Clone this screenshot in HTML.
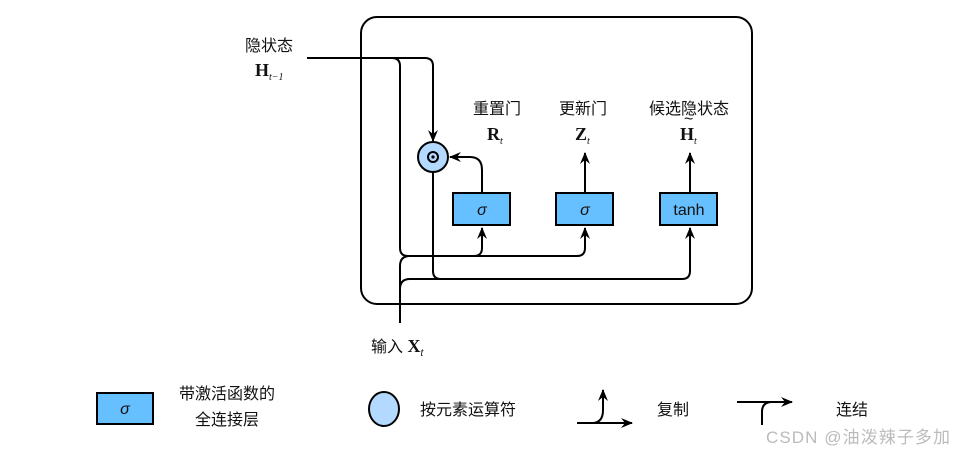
<!DOCTYPE html><html><head><style>body{margin:0;background:#fff}svg text{font-family:"Liberation Sans","Noto Sans CJK SC",sans-serif;font-size:16px;fill:#111}.s{font-family:"Liberation Serif",serif;font-weight:bold;font-size:18px}</style></head><body>
<svg width="954" height="454" xmlns="http://www.w3.org/2000/svg">
<defs><marker id="a" markerWidth="14" markerHeight="14" refX="11" refY="6" orient="auto" markerUnits="userSpaceOnUse"><path d="M0,1 L12,6 L0,11 L4,6z" fill="#000"/></marker></defs>
<rect x="361" y="17" width="391" height="287" rx="16" fill="none" stroke="#000" stroke-width="2"/>
<g fill="none" stroke="#000" stroke-width="2">
<path d="M307,58 H392 Q400,58 400,66 V248 Q400,256 408,256 H474 Q482,256 482,248 V228" marker-end="url(#a)"/>
<path d="M474,256 H577 Q585,256 585,248 V228" marker-end="url(#a)"/>
<path d="M390,58 H425 Q433,58 433,66 V141" marker-end="url(#a)"/>
<path d="M433,171 V271 Q433,279 441,279 H682 Q690,279 690,271 V228" marker-end="url(#a)"/>
<path d="M400,323 V266 Q400,256 410,256"/>
<path d="M400,300 V289 Q400,279 410,279 H441"/>
<path d="M482,193 V170 Q482,157 470,157 H450" marker-end="url(#a)"/>
<path d="M585,193 V153" marker-end="url(#a)"/>
<path d="M690,193 V153" marker-end="url(#a)"/>
</g>
<circle cx="433" cy="157" r="15" fill="#b3d9ff" stroke="#000" stroke-width="2"/>
<circle cx="433" cy="157" r="5" fill="none" stroke="#000" stroke-width="2"/><circle cx="433" cy="157" r="1.6" fill="#000"/>
<g fill="#66bfff" stroke="#000" stroke-width="2"><rect x="453" y="193" width="57" height="32"/><rect x="556" y="193" width="57" height="32"/><rect x="660" y="193" width="57" height="32"/><rect x="97" y="393" width="56" height="31"/></g>
<text x="482" y="215" text-anchor="middle" font-style="italic">σ</text>
<text x="585" y="215" text-anchor="middle" font-style="italic">σ</text>
<text x="689" y="215" text-anchor="middle">tanh</text>
<text x="125" y="414" text-anchor="middle" font-style="italic">σ</text>
<text x="497" y="114" text-anchor="middle">重置门</text>
<text x="583" y="114" text-anchor="middle">更新门</text>
<text x="689" y="114" text-anchor="middle">候选隐状态</text>
<text x="487" y="140" class="s">R<tspan font-size="10" font-style="italic" font-weight="normal" dy="4">t</tspan></text>
<text x="575" y="140" class="s">Z<tspan font-size="10" font-style="italic" font-weight="normal" dy="4">t</tspan></text>
<text x="680" y="140" class="s">H<tspan font-size="10" font-style="italic" font-weight="normal" dy="4">t</tspan></text>
<text x="684" y="124" font-size="13">~</text>
<text x="245" y="51">隐状态</text>
<text x="255" y="76" class="s">H<tspan font-size="10" font-style="italic" font-weight="normal" dy="4">t−1</tspan></text>
<text x="371" y="352">输入 <tspan class="s">X</tspan><tspan font-size="10" font-style="italic" dy="4">t</tspan></text>
<text x="227" y="399" text-anchor="middle">带激活函数的</text>
<text x="227" y="425" text-anchor="middle">全连接层</text>
<ellipse cx="384" cy="409" rx="15" ry="17" fill="#b3d9ff" stroke="#000" stroke-width="2"/>
<text x="420" y="415">按元素运算符</text>
<g fill="none" stroke="#000" stroke-width="2">
<path d="M577,423 H632" marker-end="url(#a)"/>
<path d="M592,423 Q603,423 603,410 V390" marker-end="url(#a)"/>
<path d="M737,402 H792" marker-end="url(#a)"/>
<path d="M762,425 V412 Q762,402 772,402"/>
</g>
<text x="657" y="415">复制</text>
<text x="836" y="415">连结</text>
<text x="766" y="443" style="fill:#bbb;font-size:17px" textLength="184">CSDN @油泼辣子多加</text>
</svg></body></html>
